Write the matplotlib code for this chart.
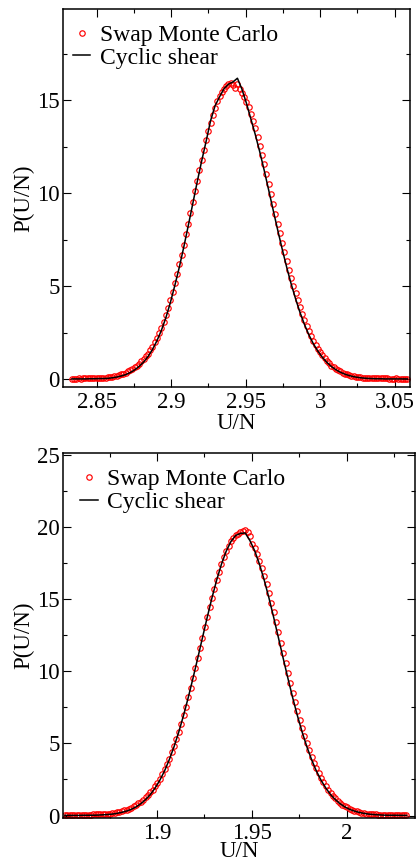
import numpy as np
import matplotlib
matplotlib.use('Agg')
import matplotlib.pyplot as plt
import matplotlib.ticker as ticker

plt.rcParams['font.family'] = ['Liberation Serif', 'DejaVu Serif']

#Top panel: histogram bins of U/N (start, bin width) and P(U/N) values
top_mc_x0, top_mc_dx = 2.8335, 0.0015
top_mc = [0.04, 0.04, 0.04, 0.05, 0.04, 0.05, 0.05, 0.05, 0.06, 0.06, 0.06, 0.07, 0.07, 0.08, 0.08, 0.09,
          0.10, 0.12, 0.14, 0.17, 0.19, 0.23, 0.27, 0.31, 0.36, 0.42, 0.49, 0.56, 0.64, 0.74, 0.84,
          0.96, 1.08, 1.23, 1.38, 1.56, 1.76, 1.98, 2.22, 2.49, 2.78, 3.10, 3.44, 3.84, 4.26, 4.70, 5.18, 5.66, 6.17, 6.70, 7.24,
          7.80, 8.37, 8.93, 9.52, 10.10, 10.66, 11.25, 11.78, 12.33, 12.84, 13.33, 13.80, 14.20, 14.60, 14.95, 15.22, 15.45, 15.62, 15.74, 15.85,
          15.92, 15.80, 15.65, 15.86, 15.60, 15.40, 15.18, 14.92, 14.62, 14.28, 13.90, 13.48, 13.03, 12.55, 12.06, 11.55, 11.02, 10.49, 9.95, 9.42, 8.89,
          8.36, 7.85, 7.34, 6.85, 6.36, 5.90, 5.45, 5.03, 4.63, 4.24, 3.87, 3.52, 3.20, 2.89, 2.61, 2.34, 2.08, 1.85, 1.64, 1.45,
          1.28, 1.12, 0.98, 0.86, 0.74, 0.65, 0.56, 0.48, 0.42, 0.36, 0.31, 0.26, 0.23, 0.19, 0.16, 0.14, 0.12, 0.10, 0.09, 0.08,
          0.07, 0.07, 0.06, 0.06, 0.06, 0.05, 0.05, 0.05, 0.05, 0.05, 0.04, 0.04, 0.04, 0.05, 0.04, 0.04, 0.04, 0.04, 0.04]
top_cs_x0, top_cs_dx = 2.8335, 0.003
top_cs = [0.02, 0.02, 0.02, 0.02, 0.03, 0.03, 0.04, 0.04, 0.05, 0.08, 0.12, 0.18, 0.25, 0.36, 0.50, 0.69,
          0.92, 1.22, 1.60, 2.07, 2.63, 3.31, 4.12, 5.04, 6.02, 7.10, 8.25, 9.42, 10.60, 11.73, 12.79, 13.90, 14.70, 15.18, 15.62, 15.86,
          15.98, 16.18, 15.60, 14.85, 14.00, 13.15, 12.22, 11.22, 10.16, 9.09, 8.03, 7.01, 6.04, 5.14, 4.33, 3.59, 2.94, 2.38, 1.90, 1.51,
          1.18, 0.91, 0.69, 0.52, 0.38, 0.28, 0.20, 0.14, 0.10, 0.07, 0.05, 0.04, 0.03, 0.03, 0.02, 0.02, 0.02, 0.02, 0.02, 0.02]

#Bottom panel
bot_mc_x0, bot_mc_dx = 1.8515, 0.00125
bot_mc = [0.05, 0.05, 0.05, 0.05, 0.06, 0.06, 0.06, 0.06, 0.06, 0.07, 0.07, 0.07, 0.08, 0.08, 0.08,
          0.09, 0.10, 0.11, 0.12, 0.14, 0.16, 0.19, 0.22, 0.26, 0.30, 0.35, 0.41, 0.48, 0.55, 0.64, 0.74, 0.85, 0.97, 1.10, 1.25,
          1.41, 1.60, 1.80, 2.03, 2.28, 2.56, 2.86, 3.19, 3.56, 3.95, 4.37, 4.82, 5.30, 5.82, 6.37, 6.94, 7.55, 8.18, 8.84, 9.52,
          10.21, 10.91, 11.62, 12.33, 13.04, 13.74, 14.42, 15.09, 15.72, 16.33, 16.90, 17.42, 17.90, 18.32, 18.69, 18.99, 19.24, 19.41, 19.52,
          19.62, 19.72, 19.76, 19.68,
          19.40, 18.84, 18.51, 18.11, 17.66, 17.16, 16.62, 16.03, 15.41, 14.76, 14.08, 13.39, 12.69, 11.98, 11.27, 10.56, 9.87, 9.18, 8.51, 7.86,
          7.24, 6.64, 6.07, 5.53, 5.02, 4.54, 4.09, 3.67, 3.28, 2.92, 2.60, 2.30, 2.03, 1.78, 1.56, 1.36, 1.18, 1.03, 0.89, 0.76,
          0.65, 0.56, 0.47, 0.40, 0.34, 0.29, 0.24, 0.20, 0.17, 0.14, 0.12, 0.10, 0.09, 0.08, 0.07, 0.07,
          0.06, 0.06, 0.06, 0.05, 0.05, 0.05, 0.05, 0.05, 0.04, 0.04, 0.04]
bot_cs_x0, bot_cs_dx = 1.8515, 0.0025
bot_cs = [0.01, 0.01, 0.01, 0.01, 0.02, 0.02, 0.02, 0.03, 0.05, 0.07, 0.10, 0.15, 0.22, 0.31, 0.43, 0.60, 0.82, 1.10,
          1.45, 1.90, 2.44, 3.09, 3.87, 4.77, 5.79, 6.93, 8.18, 9.52, 10.91, 12.33, 13.74, 15.09, 16.33, 17.42, 18.32, 18.99, 19.41,
          19.55, 19.58, 19.05, 18.35, 17.42, 16.33, 15.09, 13.74, 12.33, 10.91, 9.52, 8.18, 6.93, 5.79, 4.77, 3.87, 3.09, 2.44, 1.90,
          1.45, 1.10, 0.82, 0.60, 0.43, 0.31, 0.22, 0.15, 0.10, 0.07, 0.05, 0.03, 0.02, 0.02, 0.02, 0.01, 0.01]

labels = ['Swap Monte Carlo', 'Cyclic shear']


def bins(x0, dx, vals):
    return x0 + dx * np.arange(len(vals))


fig = plt.figure(figsize=(4.19, 8.6), dpi=100)
ax1 = fig.add_axes([0.1504, 0.5503, 0.8282, 0.4392])
ax2 = fig.add_axes([0.1504, 0.0492, 0.8401, 0.4237])

panels = [
    (ax1, top_mc_x0, top_mc_dx, top_mc, top_cs_x0, top_cs_dx, top_cs,
     (2.8275, 3.0603), (-0.4, 19.9), 0.028, 0.959, 0),
    (ax2, bot_mc_x0, bot_mc_dx, bot_mc, bot_cs_x0, bot_cs_dx, bot_cs,
     (1.8505, 2.036), (-0.15, 25.1), 0.048, 0.9575, -2),
]

for ax, mx0, mdx, mc, cx0, cdx, cs, xl, yl, legx, legy, xpad in panels:
    ax.plot(bins(mx0, mdx, mc), mc, 'o', ms=3.9, mfc='none', mec='#ff0000', mew=0.85,
            label=labels[0])
    ax.plot(bins(cx0, cdx, cs), cs, '-', color='black', lw=1.1, label=labels[1])
    ax.set_xlim(*xl)
    ax.set_ylim(*yl)
    ax.xaxis.set_major_locator(ticker.MultipleLocator(0.05))
    ax.xaxis.set_minor_locator(ticker.MultipleLocator(0.025))
    ax.yaxis.set_major_locator(ticker.MultipleLocator(5))
    ax.yaxis.set_minor_locator(ticker.MultipleLocator(2.5))
    ax.xaxis.set_major_formatter(ticker.FormatStrFormatter('%g'))
    ax.yaxis.set_major_formatter(ticker.FormatStrFormatter('%g'))
    ax.tick_params(which='both', direction='in', top=True, right=True, width=0.8, labelsize=16.5)
    ax.tick_params(which='major', length=5.5)
    ax.tick_params(which='minor', length=2.8)
    ax.tick_params(axis='x', pad=4)
    ax.tick_params(axis='y', pad=2.5)
    for s in ax.spines.values():
        s.set_linewidth(1.1)
    ax.set_xlabel('U/N', fontsize=16.5, labelpad=xpad)
    ax.set_ylabel('P(U/N)', fontsize=16.5, labelpad=2)
    ax.legend(loc='upper left', bbox_to_anchor=(legx, legy), frameon=False, fontsize=17,
              numpoints=1, handlelength=0.75, handletextpad=0.4, borderpad=0,
              borderaxespad=0, labelspacing=0.05)

plt.savefig('out.png', dpi=100)
